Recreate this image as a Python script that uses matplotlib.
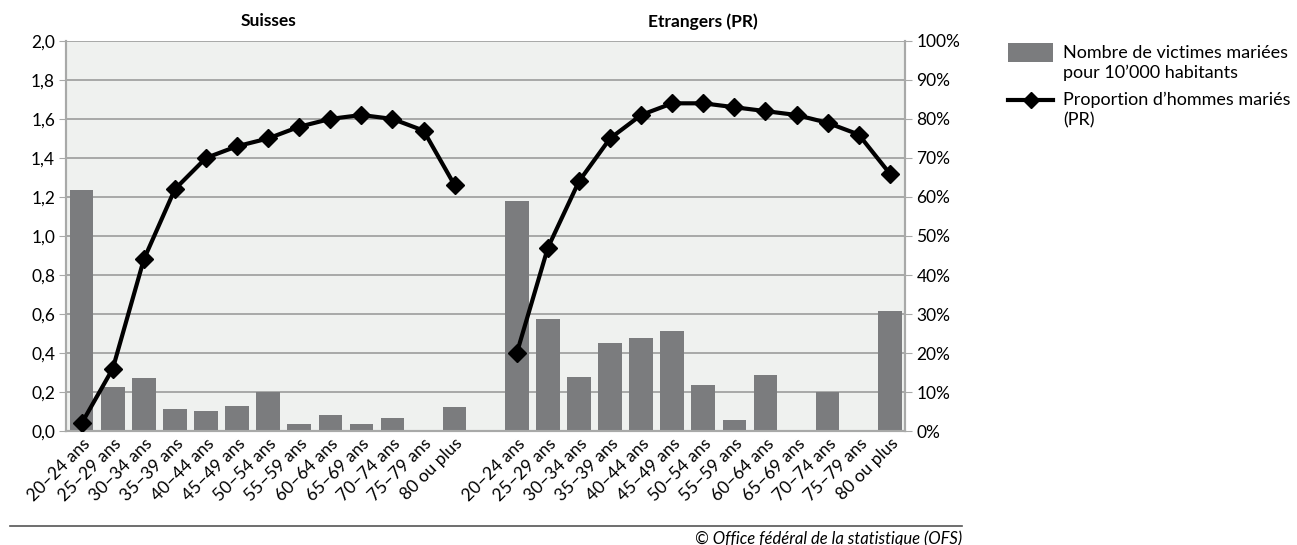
import numpy as np
import matplotlib
matplotlib.use("Agg")
from matplotlib import pyplot as plt
from matplotlib.patches import Rectangle
from matplotlib.lines import Line2D

plt.rcParams["font.family"] = ["Lato", "DejaVu Sans"]

ages = ["20–24 ans", "25–29 ans", "30–34 ans", "35–39 ans", "40–44 ans",
        "45–49 ans", "50–54 ans", "55–59 ans", "60–64 ans", "65–69 ans",
        "70–74 ans", "75–79 ans", "80 ou plus"]

# victimes mariées pour 10'000 habitants
suisses_bars = [1.236, 0.227, 0.273, 0.115, 0.103, 0.129, 0.201, 0.038,
                0.082, 0.038, 0.069, 0.0, 0.124]
etrangers_bars = [1.179, 0.572, 0.278, 0.453, 0.479, 0.515, 0.237, 0.057,
                  0.288, 0.0, 0.201, 0.0, 0.618]

# proportion d'hommes mariés (%)
suisses_pct = [2, 16, 44, 62, 70, 73, 75, 78, 80, 81, 80, 77, 63]
etrangers_pct = [20, 47, 64, 75, 81, 84, 84, 83, 82, 81, 79, 76, 66]

bar_color = "#7b7c7e"
grid_color = "#a8a9a8"


def main():
    fig = plt.figure(figsize=(12.97, 5.45), dpi=100)
    ax = fig.add_axes([0.051, 0.209, 0.647, 0.716])
    ax2 = ax.twinx()

    n = len(ages)
    xs_s = np.arange(n)
    xs_e = np.arange(n) + n + 1
    labels = ages + [""] + ages

    ax.set_facecolor("#eff1ef")
    ax.bar(xs_s, suisses_bars, width=0.76, color=bar_color, zorder=2)
    ax.bar(xs_e, etrangers_bars, width=0.76, color=bar_color, zorder=2)

    for xs, vals in [(xs_s, suisses_pct), (xs_e, etrangers_pct)]:
        ax2.plot(xs, vals, color="black", lw=3, marker="D", ms=9,
                 solid_joinstyle="round", zorder=3)

    ax.set_xlim(-0.5, 2 * n + 0.5)
    ax.set_ylim(0, 2.0)
    ax.set_yticks(np.arange(0, 2.01, 0.2))
    ax.set_yticklabels([f"{v:.1f}".replace(".", ",") for v in np.arange(0, 2.01, 0.2)])
    ax2.set_ylim(0, 100)
    ax2.set_yticks(range(0, 101, 10))
    ax2.set_yticklabels([f"{v}%" for v in range(0, 101, 10)])

    ax.set_xticks(list(xs_s) + [n] + list(xs_e))
    ax.set_xticklabels(labels, rotation=45, ha="right", rotation_mode="anchor",
                       fontsize=12.5)
    ax.tick_params(axis="x", length=0, pad=3)
    ax.tick_params(axis="y", length=5, color=grid_color, labelsize=12.5, pad=3)
    ax2.tick_params(axis="y", length=5, color=grid_color, labelsize=12.5, pad=3)

    ax.grid(axis="y", color=grid_color, lw=1.4, zorder=1)
    ax.set_axisbelow(True)
    for a in (ax, ax2):
        a.spines["top"].set_visible(False)
        for s in ("left", "right", "bottom"):
            a.spines[s].set_color(grid_color)
            a.spines[s].set_linewidth(1.5)

    # group titles
    ax.text((n - 1) / 2, 1.05, "Suisses", transform=ax.get_xaxis_transform(),
            ha="center", va="center", fontsize=12.5, fontweight="bold")
    ax.text(n + 1 + (n - 1) / 2, 1.05, "Etrangers (PR)",
            transform=ax.get_xaxis_transform(),
            ha="center", va="center", fontsize=12.5, fontweight="bold")

    # legend (handles aligned with first line of each label, like the original)
    fig.add_artist(Rectangle((0.7772, 0.8862), 0.0347, 0.0349,
                             transform=fig.transFigure, facecolor=bar_color,
                             edgecolor="none"))
    fig.add_artist(Line2D([0.7772, 0.7946, 0.8119], [0.8165] * 3,
                          transform=fig.transFigure, color="black", lw=3,
                          marker="D", ms=8, markevery=[1]))
    fig.text(0.8196, 0.8844, "Nombre de victimes mariées\npour 10’000 habitants",
             ha="left", va="center", fontsize=13, linespacing=1.33)
    fig.text(0.8196, 0.7982, "Proportion d’hommes mariés\n(PR)",
             ha="left", va="center", fontsize=13, linespacing=1.33)

    # footer
    fig.add_artist(Line2D([0.008, 0.742], [0.035, 0.035], color="#555555", lw=1.2))
    fig.text(0.742, 0.012, "© Office fédéral de la statistique (OFS)",
             ha="right", va="center", fontsize=12, style="italic")

    fig.savefig("out.png", dpi=100)


if __name__ == "__main__":
    main()
